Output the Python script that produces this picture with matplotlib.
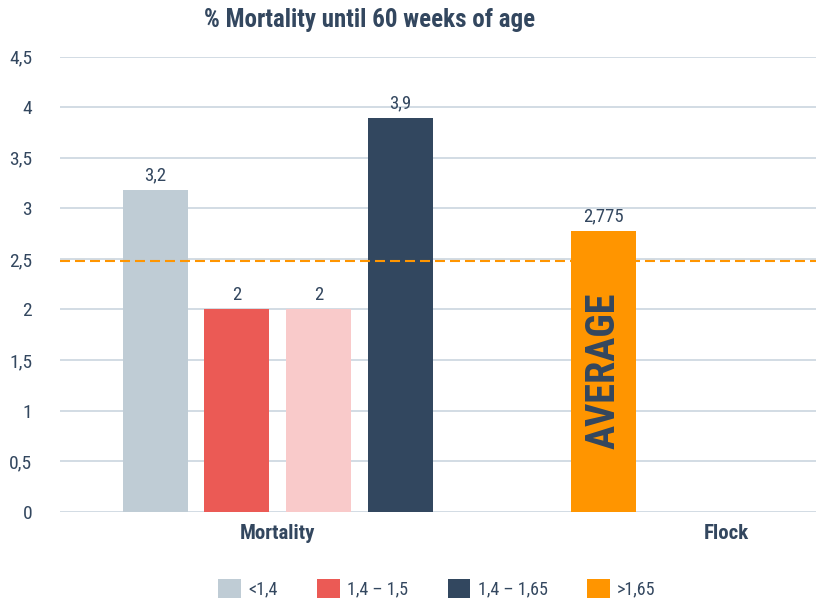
import matplotlib
matplotlib.use("Agg")
import matplotlib.pyplot as plt
from matplotlib import font_manager
from matplotlib.patches import Patch

# ---- data ----
groups = ["Mortality", "Flock"]
series_names = ["<1,4", "1,4 – 1,5", "", "1,4 – 1,65", ">1,65"]
series_group = [0, 0, 0, 0, 1]
series_slot = [0, 1, 2, 3, 0]
values = [3.18, 2.0, 2.0, 3.89, 2.775]
value_labels = ["3,2", "2", "2", "3,9", "2,775"]
colors = ["#bfccd5", "#eb5a55", "#f9caca", "#32475f", "#ff9500"]
legend_order = [0, 1, 3, 4]
average_line = 2.475
y_ticks = [0, 0.5, 1, 1.5, 2, 2.5, 3, 3.5, 4, 4.5]
y_tick_labels = ["0", "0,5", "1", "1,5", "2", "2,5", "3", "3,5", "4", "4,5"]
title = "% Mortality until 60 weeks of age"
bar_text = "AVERAGE"

# ---- font choice (condensed) ----
names = {f.name for f in font_manager.fontManager.ttflist}
family = "DejaVu Sans"
stretch = "normal"
for cand in ["Roboto Condensed", "Open Sans Condensed", "Liberation Sans Narrow"]:
    if cand in names:
        family = cand
        break
else:
    stretch = "condensed"
plt.rcParams["font.family"] = [family, "DejaVu Sans"]
plt.rcParams["font.stretch"] = stretch

navy = "#33475f"
grid_c = "#cbd6df"

fig = plt.figure(figsize=(8.16, 6.02), dpi=100)
ax = fig.add_axes([60 / 816, 1 - 511.7 / 602, 1 - 60 / 816, (511.7 - 56.7) / 602])

slot_w = 0.182
bar_w = 0.145
xs = [series_group[i] + (series_slot[i] - 1.5) * slot_w for i in range(len(values))]
bars = ax.bar(xs, values, width=bar_w, color=colors, zorder=3)
for b, lab in zip(bars, value_labels):
    ax.annotate(lab, (b.get_x() + b.get_width() / 2, b.get_height()),
                xytext=(0, 4), textcoords="offset points", ha="center", va="bottom",
                fontsize=13.5, color=navy)

ax.axhline(average_line, color="#ff9500", lw=1.5, dashes=(4.8, 2.4), zorder=4)

ax.text(xs[4], 1.39, bar_text, rotation=90, ha="center", va="center",
        fontsize=29, fontweight="bold", color=navy, zorder=5)

ax.set_xlim(-0.4855, 1.2)
ax.set_ylim(0, 4.5)
ax.set_yticks(y_ticks)
ax.set_yticklabels(y_tick_labels, fontsize=14, color=navy)
ax.set_xticks(range(len(groups)))
ax.set_xticklabels(groups, fontsize=15, fontweight="bold", color=navy)
ax.tick_params(axis="y", length=0, pad=20)
ax.tick_params(axis="x", length=0, pad=9)
ax.yaxis.grid(True, color=grid_c, lw=1.2, zorder=0)
for s in ax.spines.values():
    s.set_visible(False)
ax.set_axisbelow(True)

fig.text(370 / 816, 1 - 20 / 602, title, ha="center", va="center",
         fontsize=18, fontweight="bold", color=navy)

handles = [Patch(facecolor=colors[i], label=series_names[i]) for i in legend_order]
leg = fig.legend(handles=handles, loc="center", bbox_to_anchor=(437 / 816, 1 - 589 / 602),
                 ncol=4, frameon=False, fontsize=13, handlelength=1.25, handleheight=1.25,
                 handletextpad=0.4, columnspacing=2.2)
for t in leg.get_texts():
    t.set_color(navy)

fig.savefig("out.png", dpi=100)
